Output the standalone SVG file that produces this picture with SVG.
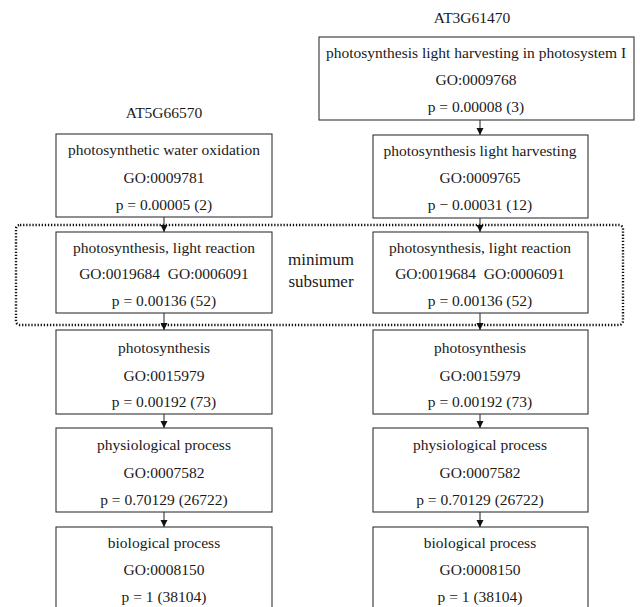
<svg xmlns="http://www.w3.org/2000/svg" width="640" height="607" viewBox="0 0 640 607">
<defs>
<style>
text{font-family:"Liberation Serif","Times New Roman",serif;font-size:15.5px;fill:#1a1a1a;text-anchor:middle;white-space:pre}
.lbl{font-size:17px}
.box{fill:#fff;stroke:#333;stroke-width:1.1}
.edge{stroke:#222;stroke-width:1;fill:none}
.sub{fill:none;stroke:#111;stroke-width:2.4;stroke-dasharray:1.3 1.8}
</style>
<marker id="ah" markerWidth="8" markerHeight="8" refX="7" refY="4" orient="auto" markerUnits="userSpaceOnUse">
<path d="M0,0.5 L7,4 L0,7.5 Z" fill="#111"/>
</marker>
</defs>
<rect width="640" height="607" fill="#fff"/>

<g id="subsumer-region">
<rect class="sub" x="16" y="225" width="607" height="100" rx="4"/>
<text class="lbl" x="321" y="265">minimum</text>
<text class="lbl" x="321" y="287">subsumer</text>
</g>

<g id="connectors">
<line class="edge" x1="480" y1="120" x2="480" y2="135" marker-end="url(#ah)"/>
<line class="edge" x1="164" y1="217" x2="164" y2="232" marker-end="url(#ah)"/>
<line class="edge" x1="480" y1="218" x2="480" y2="232" marker-end="url(#ah)"/>
<line class="edge" x1="164" y1="313" x2="164" y2="330" marker-end="url(#ah)"/>
<line class="edge" x1="480" y1="313" x2="480" y2="330" marker-end="url(#ah)"/>
<line class="edge" x1="164" y1="414" x2="164" y2="428" marker-end="url(#ah)"/>
<line class="edge" x1="480" y1="414" x2="480" y2="428" marker-end="url(#ah)"/>
<line class="edge" x1="164" y1="512" x2="164" y2="527" marker-end="url(#ah)"/>
<line class="edge" x1="480" y1="512" x2="480" y2="527" marker-end="url(#ah)"/>
</g>

<g id="label-AT5G66570"><text x="164" y="118">AT5G66570</text></g>
<g id="label-AT3G61470"><text x="472" y="23">AT3G61470</text></g>

<g id="r-psi">
<rect class="box" x="319" y="37" width="315" height="83"/>
<text x="476" y="58">photosynthesis light harvesting in photosystem I</text>
<text x="476" y="85">GO:0009768</text>
<text x="476" y="112">p = 0.00008 (3)</text>
</g>

<g id="l-water">
<rect class="box" x="56" y="134" width="216" height="83"/>
<text x="164" y="155">photosynthetic water oxidation</text>
<text x="164" y="183">GO:0009781</text>
<text x="164" y="210">p = 0.00005 (2)</text>
</g>

<g id="r-harvest">
<rect class="box" x="373" y="135" width="215" height="83"/>
<text x="480" y="156">photosynthesis light harvesting</text>
<text x="480" y="183">GO:0009765</text>
<text x="480" y="210">p − 0.00031 (12)</text>
</g>

<g id="l-lightreaction">
<rect class="box" x="56" y="232" width="216" height="81"/>
<text x="164" y="253">photosynthesis, light reaction</text>
<text x="164" y="279">GO:0019684  GO:0006091</text>
<text x="164" y="306">p = 0.00136 (52)</text>
</g>

<g id="r-lightreaction">
<rect class="box" x="373" y="232" width="215" height="81"/>
<text x="480" y="253">photosynthesis, light reaction</text>
<text x="480" y="279">GO:0019684  GO:0006091</text>
<text x="480" y="306">p = 0.00136 (52)</text>
</g>

<g id="l-photosynthesis">
<rect class="box" x="56" y="330" width="216" height="84"/>
<text x="164" y="353">photosynthesis</text>
<text x="164" y="381">GO:0015979</text>
<text x="164" y="407">p = 0.00192 (73)</text>
</g>

<g id="r-photosynthesis">
<rect class="box" x="373" y="330" width="215" height="84"/>
<text x="480" y="353">photosynthesis</text>
<text x="480" y="381">GO:0015979</text>
<text x="480" y="407">p = 0.00192 (73)</text>
</g>

<g id="l-physio">
<rect class="box" x="56" y="428" width="216" height="84"/>
<text x="164" y="450">physiological process</text>
<text x="164" y="478">GO:0007582</text>
<text x="164" y="505">p = 0.70129 (26722)</text>
</g>

<g id="r-physio">
<rect class="box" x="373" y="428" width="215" height="84"/>
<text x="480" y="450">physiological process</text>
<text x="480" y="478">GO:0007582</text>
<text x="480" y="505">p = 0.70129 (26722)</text>
</g>

<g id="l-bio">
<rect class="box" x="56" y="527" width="216" height="90"/>
<text x="164" y="548">biological process</text>
<text x="164" y="575">GO:0008150</text>
<text x="164" y="602">p = 1 (38104)</text>
</g>

<g id="r-bio">
<rect class="box" x="373" y="527" width="215" height="90"/>
<text x="480" y="548">biological process</text>
<text x="480" y="575">GO:0008150</text>
<text x="480" y="602">p = 1 (38104)</text>
</g>
</svg>
